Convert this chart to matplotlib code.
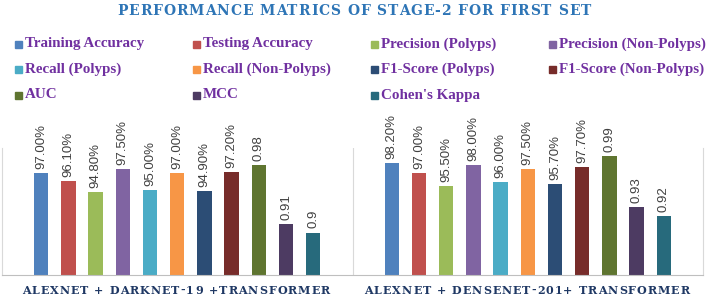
import matplotlib
matplotlib.use("Agg")
import matplotlib.pyplot as plt
import numpy as np
from matplotlib.patches import Rectangle
from matplotlib.font_manager import FontProperties, findfont, get_font

W, H = 709, 297

title = "PERFORMANCE MATRICS OF STAGE-2 FOR FIRST SET"
groups = ["ALEXNET + DARKNET-19 +TRANSFORMER", "ALEXNET + DENSENET-201+ TRANSFORMER"]
metrics = ["Training Accuracy", "Testing Accuracy", "Precision (Polyps)", "Precision (Non-Polyps)",
           "Recall (Polyps)", "Recall (Non-Polyps)", "F1-Score (Polyps)", "F1-Score (Non-Polyps)",
           "AUC", "MCC", "Cohen's Kappa"]
set1 = [0.970, 0.961, 0.948, 0.975, 0.950, 0.970, 0.949, 0.972, 0.98, 0.91, 0.90]
set2 = [0.982, 0.970, 0.955, 0.980, 0.960, 0.975, 0.957, 0.977, 0.99, 0.93, 0.92]
is_pct = [True] * 8 + [False] * 3
colors = ["#4F81BD", "#C0504D", "#9BBB59", "#8064A2", "#4BACC6", "#F79646",
          "#2C4D75", "#772C2A", "#5F7530", "#4D3B62", "#276A7C"]

fig = plt.figure(figsize=(W / 100, H / 100), dpi=100)
ax = fig.add_axes([2 / W, 22 / H, 701 / W, 127 / H])

step = 0.0776
for i, m in enumerate(metrics):
    vals = [set1[i], set2[i]]
    xs = np.arange(len(groups)) + (i - 5) * step
    ax.bar(xs, vals, width=0.041, color=colors[i])
    for x, v in zip(xs, vals):
        lab = f"{v * 100:.2f}%" if is_pct[i] else f"{v:g}"
        ax.annotate(lab, (x, v), xytext=(0, 3), textcoords="offset points",
                    rotation=90, ha="center", va="bottom", fontsize=9.5,
                    family="Liberation Sans", color="#404040")

ax.set_xlim(-0.5, 1.5)
ax.set_ylim(0.85, 1.0)
ax.set_xticks([])
ax.set_yticks([])
ax.spines["top"].set_visible(False)
for s in ["left", "right"]:
    ax.spines[s].set_color("#D9D9D9")
ax.spines["bottom"].set_color("#BFBFBF")
ax.axvline(0.5, color="#D9D9D9", lw=0.8)


# letter-spaced text, positions in pixels from top-left
def spaced(s, cx, cy, size, color, track):
    prop = FontProperties(family="DejaVu Serif", weight="bold", size=size)
    font = get_font(findfont(prop))
    font.set_size(size, 72)
    adv = [font.load_char(ord(c)).linearHoriAdvance / 65536 * 100 / 72 for c in s]
    total = sum(adv) + track * (len(s) - 1)
    x = cx - total / 2
    for c, a in zip(s, adv):
        fig.text(x / W, 1 - cy / H, c, fontproperties=prop, color=color, ha="left", va="center")
        x += a + track


spaced(title, 354, 11, 10, "#2E75B6", 0.9)
for k, g in enumerate(groups):
    spaced(g, 176 + k * 351, 290, 8, "#1F3864", 1.0)

# legend, row-major like the original
for i, m in enumerate(metrics):
    r, c = divmod(i, 4)
    x = 15 + c * 178
    y = 44 + r * 25.5
    fig.patches.append(Rectangle((x / W, 1 - (y + 3.5) / H), 7 / W, 7 / H,
                                 transform=fig.transFigure, color=colors[i]))
    fig.text((x + 10) / W, 1 - y / H, m, family="Liberation Serif", weight="bold",
             fontsize=10.8, color="#7030A0", ha="left", va="center")

fig.savefig("out.png", dpi=100)
